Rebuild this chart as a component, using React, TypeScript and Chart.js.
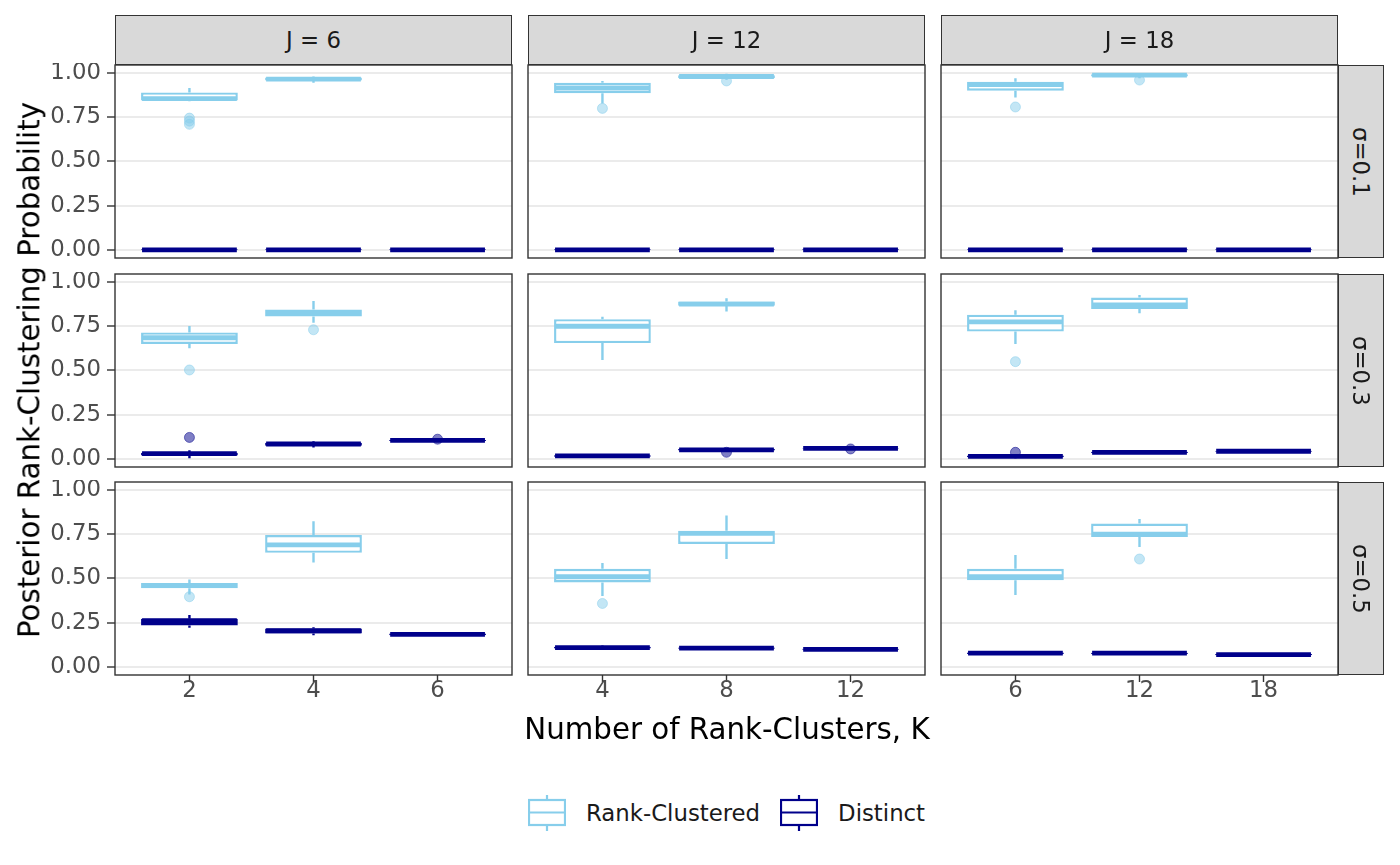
import React, { useEffect, useRef } from 'react';
import { Chart, registerables } from 'chart.js';

Chart.register(...registerables);

const FONT = 'DejaVu Sans';

// ---------- text / categories ----------
const J_STRIPS = ['J = 6', 'J = 12', 'J = 18'];
const SIGMA_STRIPS = ['σ=0.1', 'σ=0.3', 'σ=0.5'];
const K_J6 = ['2', '4', '6'];
const K_J12 = ['4', '8', '12'];
const K_J18 = ['6', '12', '18'];
const Y_TICKS = [0, 0.25, 0.5, 0.75, 1];
const SERIES_NAMES = ['Rank-Clustered', 'Distinct'];
const SERIES_COLORS = ['#87CEEB', '#00008B'];
const SERIES_POINT_FILL = ['rgba(135,206,235,0.5)', 'rgba(0,0,139,0.5)'];
const X_TITLE = 'Number of Rank-Clusters, K';
const Y_TITLE = 'Posterior Rank-Clustering Probability';

// ---------- box summaries: [min, q1, median, q3, max] per K ----------
// sigma = 0.1
const RC_J6_S1 = [[0.84, 0.845, 0.855, 0.89, 0.915], [0.945, 0.958, 0.965, 0.975, 0.98]];
const DI_J6_S1 = [[0, 0, 0.001, 0.002, 0.004], [0, 0, 0.001, 0.002, 0.004], [0, 0, 0.001, 0.002, 0.004]];
const RC_J12_S1 = [[0.827, 0.885, 0.915, 0.945, 0.955], [0.962, 0.97, 0.98, 0.987, 0.995]];
const DI_J12_S1 = [[0, 0, 0.001, 0.002, 0.003], [0, 0, 0.001, 0.002, 0.003], [0, 0, 0.001, 0.002, 0.003]];
const RC_J18_S1 = [[0.861, 0.9, 0.935, 0.95, 0.97], [0.97, 0.98, 0.988, 0.993, 0.998]];
const DI_J18_S1 = [[0, 0, 0.001, 0.002, 0.003], [0, 0, 0.001, 0.002, 0.003], [0, 0, 0.001, 0.002, 0.003]];
// sigma = 0.3
const RC_J6_S3 = [[0.625, 0.65, 0.685, 0.715, 0.752], [0.77, 0.805, 0.825, 0.845, 0.893]];
const DI_J6_S3 = [[0.005, 0.02, 0.03, 0.035, 0.05], [0.065, 0.075, 0.085, 0.092, 0.1], [0.1, 0.102, 0.105, 0.108, 0.11]];
const RC_J12_S3 = [[0.559, 0.655, 0.75, 0.79, 0.803], [0.833, 0.865, 0.875, 0.89, 0.908]];
const DI_J12_S3 = [[0.008, 0.013, 0.018, 0.022, 0.027], [0.045, 0.048, 0.052, 0.056, 0.062], [0.058, 0.059, 0.06, 0.062, 0.064]];
const RC_J18_S3 = [[0.649, 0.72, 0.775, 0.815, 0.84], [0.824, 0.848, 0.87, 0.912, 0.927]];
const DI_J18_S3 = [[0.005, 0.01, 0.015, 0.02, 0.025], [0.03, 0.034, 0.038, 0.041, 0.045], [0.037, 0.041, 0.044, 0.047, 0.05]];
// sigma = 0.5
const RC_J6_S5 = [[0.41, 0.445, 0.46, 0.475, 0.495], [0.59, 0.645, 0.69, 0.745, 0.823]];
const DI_J6_S5 = [[0.222, 0.235, 0.262, 0.272, 0.294], [0.18, 0.19, 0.205, 0.218, 0.225], [0.175, 0.18, 0.185, 0.19, 0.195]];
const RC_J12_S5 = [[0.401, 0.478, 0.51, 0.555, 0.588], [0.61, 0.695, 0.755, 0.77, 0.856]];
const DI_J12_S5 = [[0.1, 0.105, 0.11, 0.115, 0.122], [0.098, 0.103, 0.107, 0.111, 0.115], [0.093, 0.097, 0.1, 0.103, 0.106]];
const RC_J18_S5 = [[0.407, 0.49, 0.51, 0.555, 0.633], [0.678, 0.735, 0.75, 0.81, 0.836]];
const DI_J18_S5 = [[0.07, 0.074, 0.078, 0.082, 0.086], [0.07, 0.074, 0.078, 0.081, 0.085], [0.063, 0.067, 0.07, 0.073, 0.077]];

// ---------- outliers: [K index, value] ----------
const RC_OUT_J6_S1 = [[0, 0.745], [0, 0.728], [0, 0.71]];
const RC_OUT_J12_S1 = [[0, 0.8], [1, 0.955]];
const RC_OUT_J18_S1 = [[0, 0.808], [1, 0.96]];
const RC_OUT_J6_S3 = [[0, 0.503], [1, 0.73]];
const DI_OUT_J6_S3 = [[0, 0.122], [2, 0.112]];
const DI_OUT_J12_S3 = [[1, 0.038], [2, 0.057]];
const RC_OUT_J18_S3 = [[0, 0.55]];
const DI_OUT_J18_S3 = [[0, 0.038]];
const RC_OUT_J6_S5 = [[0, 0.397]];
const RC_OUT_J12_S5 = [[0, 0.359]];
const RC_OUT_J18_S5 = [[1, 0.61]];
const NONE: number[][] = [];

type Facet = { k: string[]; rc: number[][]; di: number[][]; rcOut: number[][]; diOut: number[][] };

const FACETS: Facet[][] = [
  [
    { k: K_J6, rc: RC_J6_S1, di: DI_J6_S1, rcOut: RC_OUT_J6_S1, diOut: NONE },
    { k: K_J12, rc: RC_J12_S1, di: DI_J12_S1, rcOut: RC_OUT_J12_S1, diOut: NONE },
    { k: K_J18, rc: RC_J18_S1, di: DI_J18_S1, rcOut: RC_OUT_J18_S1, diOut: NONE },
  ],
  [
    { k: K_J6, rc: RC_J6_S3, di: DI_J6_S3, rcOut: RC_OUT_J6_S3, diOut: DI_OUT_J6_S3 },
    { k: K_J12, rc: RC_J12_S3, di: DI_J12_S3, rcOut: NONE, diOut: DI_OUT_J12_S3 },
    { k: K_J18, rc: RC_J18_S3, di: DI_J18_S3, rcOut: RC_OUT_J18_S3, diOut: DI_OUT_J18_S3 },
  ],
  [
    { k: K_J6, rc: RC_J6_S5, di: DI_J6_S5, rcOut: RC_OUT_J6_S5, diOut: NONE },
    { k: K_J12, rc: RC_J12_S5, di: DI_J12_S5, rcOut: RC_OUT_J12_S5, diOut: NONE },
    { k: K_J18, rc: RC_J18_S5, di: DI_J18_S5, rcOut: RC_OUT_J18_S5, diOut: NONE },
  ],
];

// ---------- layout ----------
const PANEL_X = [115, 528, 941];
const PANEL_Y = [65, 274, 482];
const PANEL_W = 397;
const PANEL_H = 193;
const PAD = 2;
const X_AXIS_H = 48;
const TICK_FONT = 22.8;
const TITLE_FONT = 29.3;
const BOX_LW = 2.4;
const MEDIAN_LW = 4.8;

const boxPlugin = {
  id: 'boxExtras',
  beforeDatasetsDraw(chart: any) {
    const ctx = chart.ctx;
    const y = chart.scales.y;
    chart.data.datasets.forEach((ds: any, di: number) => {
      if (!ds.stats) return;
      const meta = chart.getDatasetMeta(di);
      ctx.save();
      ctx.strokeStyle = ds.borderColor;
      ctx.lineWidth = BOX_LW;
      ctx.lineCap = 'butt';
      ds.stats.forEach((s: number[], j: number) => {
        const el = meta.data[j];
        if (!el) return;
        ctx.beginPath();
        ctx.moveTo(el.x, y.getPixelForValue(s[3]));
        ctx.lineTo(el.x, y.getPixelForValue(s[4]));
        ctx.moveTo(el.x, y.getPixelForValue(s[1]));
        ctx.lineTo(el.x, y.getPixelForValue(s[0]));
        ctx.stroke();
      });
      ctx.restore();
    });
  },
  afterDatasetsDraw(chart: any) {
    const ctx = chart.ctx;
    const y = chart.scales.y;
    chart.data.datasets.forEach((ds: any, di: number) => {
      if (!ds.stats) return;
      const meta = chart.getDatasetMeta(di);
      ctx.save();
      ctx.strokeStyle = ds.borderColor;
      ctx.lineWidth = MEDIAN_LW;
      ctx.lineCap = 'butt';
      ds.stats.forEach((s: number[], j: number) => {
        const el = meta.data[j];
        if (!el) return;
        const py = y.getPixelForValue(s[2]);
        ctx.beginPath();
        ctx.moveTo(el.x - el.width / 2 + 1, py);
        ctx.lineTo(el.x + el.width / 2 - 1, py);
        ctx.stroke();
      });
      ctx.restore();
    });
  },
  afterDraw(chart: any) {
    const { ctx, chartArea: a } = chart;
    ctx.save();
    ctx.strokeStyle = '#333333';
    ctx.lineWidth = 1.4;
    ctx.strokeRect(a.left, a.top, a.right - a.left, a.bottom - a.top);
    ctx.restore();
  },
};

function Panel({ row, col }: { row: number; col: number }) {
  const ref = useRef<HTMLCanvasElement>(null);
  const facet = FACETS[row][col];
  const left = col === 0 ? 0 : PANEL_X[col] - PAD;
  const top = PANEL_Y[row] - PAD;
  const width = PANEL_X[col] + PANEL_W + PAD - left;
  const height = PAD + PANEL_H + (row === 2 ? X_AXIS_H : PAD);

  useEffect(() => {
    const series = [
      { stats: facet.rc, out: facet.rcOut },
      { stats: facet.di, out: facet.diOut },
    ];
    const datasets: any[] = [];
    series.forEach((s, si) => {
      datasets.push({
        type: 'bar',
        label: SERIES_NAMES[si],
        data: s.stats.map((v, i) => ({ x: i, y: [v[1], v[3]] })),
        stats: s.stats,
        backgroundColor: '#FFFFFF',
        borderColor: SERIES_COLORS[si],
        borderWidth: BOX_LW,
        borderSkipped: false,
        grouped: false,
        barPercentage: 0.78,
        categoryPercentage: 1,
        inflateAmount: 0,
        order: 2 - si,
      });
    });
    series.forEach((s, si) => {
      datasets.push({
        type: 'scatter',
        label: SERIES_NAMES[si] + ' outliers',
        data: s.out.map((o) => ({ x: o[0], y: o[1] })),
        backgroundColor: SERIES_POINT_FILL[si],
        borderColor: SERIES_POINT_FILL[si],
        borderWidth: 1,
        pointRadius: 5,
        order: 0,
      });
    });

    const chart = new Chart(ref.current as HTMLCanvasElement, {
      type: 'bar',
      data: { datasets },
      plugins: [boxPlugin],
      options: {
        animation: false,
        responsive: false,
        maintainAspectRatio: false,
        events: [],
        layout: {
          autoPadding: false,
          padding: { left: col === 0 ? 0 : PAD, right: PAD, top: PAD, bottom: row === 2 ? 0 : PAD },
        },
        plugins: { legend: { display: false }, tooltip: { enabled: false }, title: { display: false } },
        scales: {
          x: {
            type: 'linear',
            min: -0.6,
            max: 2.6,
            offset: false,
            afterBuildTicks: (s: any) => {
              s.ticks = facet.k.map((_, i) => ({ value: i }));
            },
            ticks: {
              display: row === 2,
              autoSkip: false,
              maxRotation: 0,
              padding: -2,
              color: '#4D4D4D',
              font: { family: FONT, size: TICK_FONT, lineHeight: 1 },
              callback: (v: any) => facet.k[Math.round(Number(v))] ?? '',
            },
            grid: {
              display: row === 2,
              offset: false,
              drawOnChartArea: false,
              drawTicks: row === 2,
              tickLength: 7,
              tickColor: '#333333',
              tickWidth: 1.4,
            },
            border: { display: false },
            afterFit: (s: any) => {
              s.height = row === 2 ? X_AXIS_H : 0;
              s.paddingLeft = 0;
              s.paddingRight = 0;
            },
          },
          y: {
            type: 'linear',
            min: -0.045,
            max: 1.045,
            afterBuildTicks: (s: any) => {
              s.ticks = Y_TICKS.map((v) => ({ value: v }));
            },
            ticks: {
              display: col === 0,
              autoSkip: false,
              padding: 6,
              color: '#4D4D4D',
              font: { family: FONT, size: TICK_FONT },
              callback: (v: any) => Number(v).toFixed(2),
            },
            grid: {
              color: '#EBEBEB',
              lineWidth: 2,
              offset: false,
              drawTicks: col === 0,
              tickLength: 8,
              tickColor: '#333333',
              tickWidth: 1.4,
            },
            border: { display: false },
            afterFit: (s: any) => {
              s.width = col === 0 ? PANEL_X[0] : 0;
              s.paddingTop = 0;
              s.paddingBottom = 0;
            },
          },
        },
      } as any,
    });
    return () => chart.destroy();
  }, []);

  return (
    <canvas
      ref={ref}
      width={width}
      height={height}
      style={{ position: 'absolute', left, top, width, height }}
    />
  );
}

function LegendKey({ color }: { color: string }) {
  return (
    <svg width={38} height={36} style={{ display: 'block' }}>
      <line x1={19} y1={0} x2={19} y2={36} stroke={color} strokeWidth={2.2} />
      <rect x={1} y={5} width={36} height={25} fill="#FFFFFF" stroke={color} strokeWidth={2.2} />
      <line x1={1} y1={17.5} x2={37} y2={17.5} stroke={color} strokeWidth={2.2} />
    </svg>
  );
}

export default function App() {
  const panels: React.ReactNode[] = [];
  for (let r = 0; r < 3; r++) for (let c = 0; c < 3; c++) panels.push(<Panel key={`${r}-${c}`} row={r} col={c} />);

  return (
    <div
      style={{
        position: 'absolute',
        left: 0,
        top: 0,
        width: 1400,
        height: 865,
        background: '#FFFFFF',
        overflow: 'hidden',
        fontFamily: FONT,
      }}
    >
      {panels}
      {J_STRIPS.map((t, c) => (
        <div
          key={t}
          style={{
            position: 'absolute',
            left: PANEL_X[c],
            top: 15,
            width: PANEL_W,
            height: PANEL_Y[0] - 15,
            boxSizing: 'border-box',
            background: '#D9D9D9',
            border: '1.3px solid #333333',
            display: 'flex',
            alignItems: 'center',
            justifyContent: 'center',
            fontSize: TICK_FONT,
            color: '#1A1A1A',
          }}
        >
          {t}
        </div>
      ))}
      {SIGMA_STRIPS.map((t, r) => (
        <div
          key={t}
          style={{
            position: 'absolute',
            left: PANEL_X[2] + PANEL_W,
            top: PANEL_Y[r],
            width: 46,
            height: PANEL_H,
            boxSizing: 'border-box',
            background: '#D9D9D9',
            border: '1.3px solid #333333',
            display: 'flex',
            alignItems: 'center',
            justifyContent: 'center',
            fontSize: TICK_FONT,
            color: '#1A1A1A',
          }}
        >
          <span style={{ writingMode: 'vertical-rl', whiteSpace: 'nowrap' }}>{t}</span>
        </div>
      ))}
      <div
        style={{
          position: 'absolute',
          left: 30,
          top: 370,
          transform: 'translate(-50%, -50%) rotate(-90deg)',
          whiteSpace: 'nowrap',
          fontSize: TITLE_FONT,
          lineHeight: 1,
          color: '#000000',
        }}
      >
        {Y_TITLE}
      </div>
      <div
        style={{
          position: 'absolute',
          left: 727,
          top: 730,
          transform: 'translate(-50%, -50%)',
          whiteSpace: 'nowrap',
          fontSize: TITLE_FONT,
          lineHeight: 1,
          color: '#000000',
        }}
      >
        {X_TITLE}
      </div>
      <div
        style={{
          position: 'absolute',
          left: 528,
          top: 795,
          height: 36,
          display: 'flex',
          alignItems: 'center',
          fontSize: TICK_FONT,
          color: '#1A1A1A',
          whiteSpace: 'nowrap',
        }}
      >
        {SERIES_NAMES.map((n, i) => (
          <React.Fragment key={n}>
            <LegendKey color={SERIES_COLORS[i]} />
            <span style={{ marginLeft: 20, marginRight: i === 0 ? 20 : 0 }}>{n}</span>
          </React.Fragment>
        ))}
      </div>
    </div>
  );
}
